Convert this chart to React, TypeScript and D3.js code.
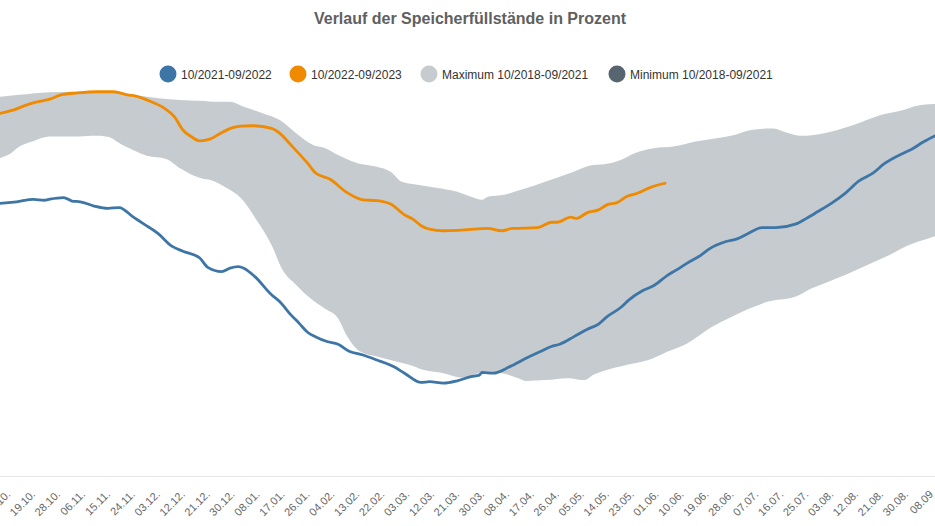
import React from "react";
import * as d3 from "d3";

// day index counted from 01.10. of the gas year
const series2122Days = [0, 5, 11, 17, 21, 23, 28, 31, 34, 39, 44, 48, 53, 57, 62, 67, 71, 77, 80, 85, 88, 91, 93, 97, 103, 106, 110, 113, 116, 119, 123, 127, 131, 136, 141, 147, 151, 157, 160, 165, 170, 175, 178, 179, 183, 189, 195, 200, 204, 207, 212, 217, 221, 224, 229, 232, 237, 241, 246, 249, 253, 258, 261, 267, 271, 275, 280, 285, 292, 296, 300, 305, 310, 315, 320, 324, 331, 334, 338, 342, 345];
const series2122Values = [70.7, 70.9, 71.3, 71.9, 71.7, 72.0, 72.4, 71.5, 71.3, 70.2, 69.6, 69.8, 67.4, 65.5, 63.1, 59.8, 58.5, 56.8, 54.3, 53.2, 54.1, 54.5, 54.1, 51.9, 47.2, 45.4, 42.0, 39.8, 37.5, 36.3, 35.1, 34.4, 32.6, 31.6, 30.3, 28.6, 26.9, 24.5, 24.7, 24.3, 24.9, 26.0, 26.4, 27.1, 26.9, 28.6, 30.8, 32.5, 33.8, 34.4, 36.3, 38.3, 39.6, 41.5, 43.9, 45.9, 48.3, 49.6, 52.3, 53.6, 55.4, 57.5, 59.1, 61.0, 61.7, 63.1, 64.6, 64.6, 65.5, 67.0, 68.7, 70.9, 73.5, 76.7, 78.7, 81.1, 83.9, 84.9, 86.7, 88.2, 89.0];

const series2223Days = [0, 5, 10, 14, 18, 23, 27, 33, 40, 46, 51, 54, 59, 64, 68, 71, 74, 77, 81, 84, 89, 92, 96, 103, 106, 110, 116, 119, 124, 130, 136, 141, 146, 151, 154, 157, 160, 165, 170, 176, 181, 186, 190, 199, 204, 206, 211, 213, 217, 221, 224, 228, 231, 235, 240, 245];
const series2223Values = [93.3, 94.2, 95.1, 96.2, 97.1, 97.9, 99.0, 99.5, 99.8, 99.8, 99.0, 98.7, 97.4, 95.7, 93.3, 89.9, 88.2, 87.1, 87.6, 88.8, 90.5, 90.9, 91.0, 90.3, 89.0, 86.0, 81.3, 78.7, 77.2, 73.8, 71.8, 71.6, 70.7, 67.9, 66.8, 65.1, 64.2, 63.8, 63.9, 64.2, 64.4, 63.8, 64.4, 64.6, 66.0, 66.0, 67.3, 67.0, 68.5, 69.2, 70.5, 71.2, 72.6, 73.5, 75.1, 76.1];

const maxDays = [0, 5, 12, 23, 33, 41, 53, 58, 65, 70, 77, 84, 88, 93, 100, 106, 112, 118, 122, 127, 134, 141, 146, 150, 155, 163, 170, 175, 179, 181, 187, 193, 199, 206, 212, 219, 223, 229, 234, 241, 248, 256, 263, 270, 276, 284, 289, 294, 302, 309, 316, 322, 331, 336, 342, 345];
const maxValues = [98.2, 98.5, 99.0, 99.7, 99.8, 100.0, 99.0, 98.5, 97.9, 97.7, 97.5, 97.2, 97.2, 95.9, 94.2, 92.5, 89.0, 86.0, 85.3, 83.4, 81.3, 80.4, 79.1, 76.5, 75.8, 74.9, 73.9, 72.6, 71.8, 72.6, 73.1, 74.4, 75.8, 77.5, 79.1, 80.8, 81.0, 82.1, 83.9, 85.2, 85.6, 86.9, 87.7, 88.6, 89.9, 90.3, 89.2, 88.4, 89.0, 90.3, 92.0, 93.6, 95.1, 96.2, 96.6, 96.7];

const minDays = [0, 5, 9, 12, 17, 23, 31, 40, 45, 48, 53, 58, 65, 70, 77, 82, 87, 92, 98, 103, 107, 112, 117, 122, 127, 130, 135, 141, 148, 153, 158, 165, 172, 178, 184, 192, 195, 202, 210, 216, 219, 224, 231, 239, 246, 253, 262, 268, 275, 282, 292, 298, 304, 310, 318, 326, 333, 340, 342, 345];
const minValues = [80.8, 82.6, 83.9, 85.6, 87.0, 88.2, 88.2, 88.4, 87.9, 86.5, 84.7, 83.2, 82.4, 80.0, 77.5, 76.7, 74.8, 72.2, 66.1, 60.1, 53.6, 49.7, 46.3, 43.7, 41.1, 36.8, 32.5, 31.2, 29.9, 29.0, 27.7, 26.9, 25.7, 26.9, 27.1, 25.6, 24.9, 25.1, 25.6, 25.1, 26.4, 27.7, 29.0, 30.3, 32.5, 34.6, 38.9, 41.1, 43.5, 45.4, 46.7, 48.9, 50.6, 52.3, 54.9, 57.5, 60.1, 61.8, 62.3, 62.8];

const tickLabels = ["10.10.", "19.10.", "28.10.", "06.11.", "15.11.", "24.11.", "03.12.", "12.12.", "21.12.", "30.12.", "08.01.", "17.01.", "26.01.", "04.02.", "13.02.", "22.02.", "03.03.", "12.03.", "21.03.", "30.03.", "08.04.", "17.04.", "26.04.", "05.05.", "14.05.", "23.05.", "01.06.", "10.06.", "19.06.", "28.06.", "07.07.", "16.07.", "25.07.", "03.08.", "12.08.", "21.08.", "30.08.", "08.09"];
const tickDays = [9, 18, 27, 36, 45, 54, 63, 72, 81, 90, 99, 108, 117, 126, 135, 144, 153, 162, 171, 180, 189, 198, 207, 216, 225, 234, 243, 252, 261, 270, 279, 288, 297, 306, 315, 324, 333, 342];

const legendNames = ["10/2021-09/2022", "10/2022-09/2023", "Maximum 10/2018-09/2021", "Minimum 10/2018-09/2021"];
const legendColors = ["#3d76a6", "#f08a00", "#c5cbcf", "#56656f"];

const W = 935;
const H = 526;
const FONT = "'Liberation Sans', Arial, Helvetica, sans-serif";

export default function App() {
  const x = d3.scaleLinear().domain([0, 364]).range([-13.9, 994.8]);
  const y = d3.scaleLinear().domain([0, 100]).range([477, 91]);

  const zip = (ds: number[], vs: number[]) => ds.map((d, i) => [d, vs[i]] as [number, number]);

  const area = d3
    .area<[number, number]>()
    .x((p) => x(p[0]))
    .y0(y(0))
    .y1((p) => y(p[1]))
    .curve(d3.curveMonotoneX);
  const line = d3
    .line<[number, number]>()
    .x((p) => x(p[0]))
    .y((p) => y(p[1]))
    .curve(d3.curveMonotoneX);

  const legendX = [168, 298, 429, 617];

  return (
    <svg
      width={W}
      height={H}
      style={{ position: "absolute", left: 0, top: 0, display: "block", background: "#fff" }}
      fontFamily={FONT}
    >
      <rect x={0} y={0} width={W} height={H} fill="#fff" />
      <text x={470} y={24} textAnchor="middle" fontSize={16} fontWeight="bold" fill="#606060">
        Verlauf der Speicherfüllstände in Prozent
      </text>

      {legendNames.map((n, i) => (
        <g key={n}>
          <circle cx={legendX[i]} cy={74} r={8.5} fill={legendColors[i]} />
          <text x={legendX[i] + 13} y={78.5} fontSize={12} fill="#333">
            {n}
          </text>
        </g>
      ))}

      <path d={area(zip(maxDays, maxValues)) || ""} fill="#c5cbcf" />
      <path d={area(zip(minDays, minValues)) || ""} fill="#ffffff" />

      <line x1={0} x2={W} y1={476.5} y2={476.5} stroke="#e6e6e6" strokeWidth={1} />

      <path
        d={line(zip(series2122Days, series2122Values)) || ""}
        fill="none"
        stroke="#3d76a6"
        strokeWidth={2.8}
        strokeLinejoin="round"
        strokeLinecap="round"
      />
      <path
        d={line(zip(series2223Days, series2223Values)) || ""}
        fill="none"
        stroke="#f08a00"
        strokeWidth={2.8}
        strokeLinejoin="round"
        strokeLinecap="round"
      />

      {tickLabels.map((t, i) => {
        const tx = x(tickDays[i]);
        return (
          <text
            key={t + i}
            x={tx}
            y={495}
            fontSize={11}
            fill="#666"
            textAnchor="end"
            transform={`rotate(-45 ${tx} 495)`}
          >
            {t}
          </text>
        );
      })}
    </svg>
  );
}
